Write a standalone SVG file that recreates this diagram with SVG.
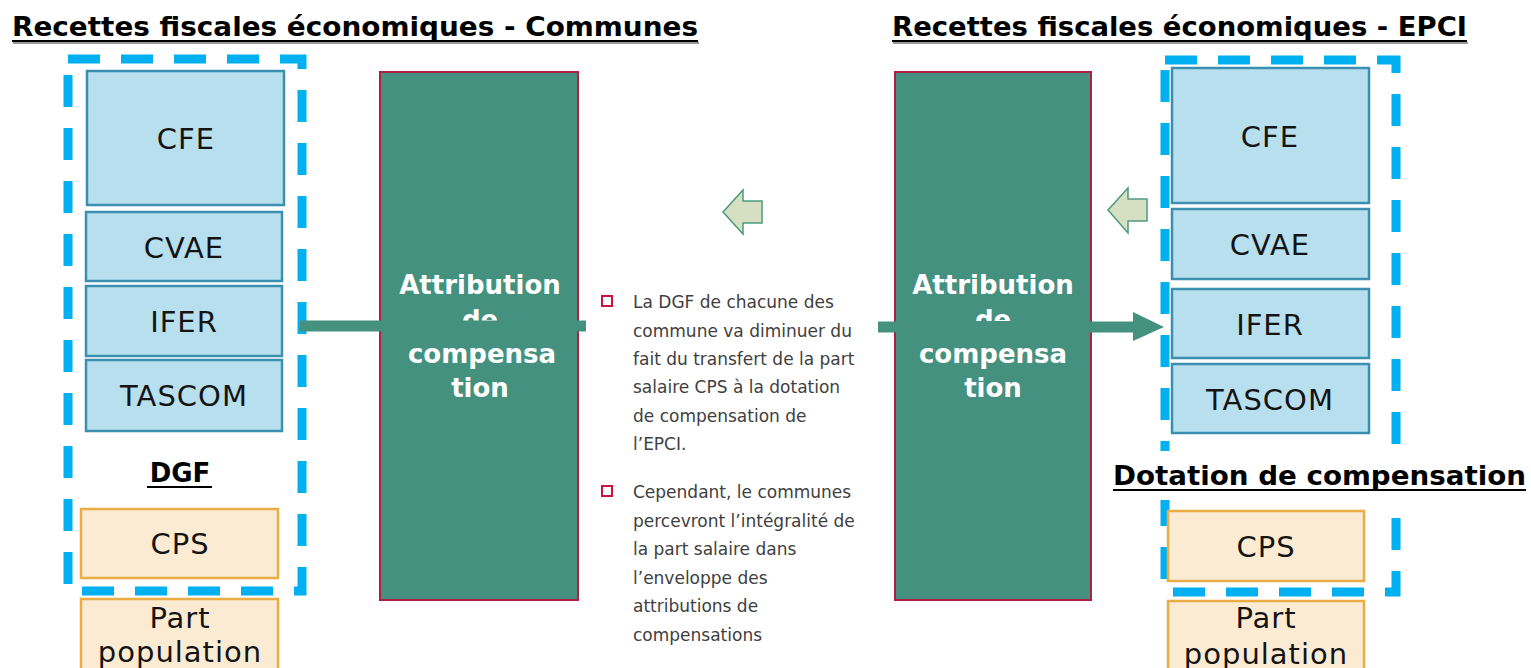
<svg xmlns="http://www.w3.org/2000/svg" width="1531" height="668" viewBox="0 0 1531 668">
<style>
.title{font-family:"DejaVu Sans",sans-serif;font-weight:bold;font-size:27px;fill:#000}
.ul{stroke:#000;stroke-width:2}
.ulsh{stroke:#9a9a9a;stroke-width:2}
.dash{fill:none;stroke:#00B0F0;stroke-width:9;stroke-dasharray:32 21}
.blue{fill:#B8DFEE;stroke:#3A90AE;stroke-width:2.5}
.orange{fill:#FBEBD3;stroke:#EAAC45;stroke-width:2.5}
.lbl{font-family:"DejaVu Sans",sans-serif;font-size:29px;fill:#141414;text-anchor:middle;letter-spacing:1px}
.green{fill:#44917F;stroke:#B01E40;stroke-width:2}
.gt{font-family:"DejaVu Sans",sans-serif;font-weight:bold;font-size:26px;fill:#fff;text-anchor:middle}
.body{font-family:"DejaVu Sans",sans-serif;font-size:17px;fill:#404040}
.bul{fill:#fff;stroke:#C8143C;stroke-width:2}
.conn{stroke:#44917F;stroke-width:11;fill:none}
.harrow{fill:#D5E0C2;stroke:#4E9A80;stroke-width:1.5}
.bold{font-family:"DejaVu Sans",sans-serif;font-weight:bold;font-size:26px;fill:#000}
</style>
<defs>
<clipPath id="clipL"><rect x="380" y="290" width="200" height="31"/></clipPath>
<clipPath id="clipR"><rect x="895" y="290" width="200" height="31"/></clipPath>
</defs>
<rect width="1531" height="668" fill="#fff"/>

<g id="title-communes">
<text class="title" x="12" y="36" textLength="686" lengthAdjust="spacingAndGlyphs">Recettes fiscales économiques - Communes</text>
<line class="ulsh" x1="13" y1="43" x2="699" y2="43"/>
<line class="ul" x1="12" y1="41" x2="698" y2="41"/>
</g>
<g id="title-epci">
<text class="title" x="892" y="36" textLength="575" lengthAdjust="spacingAndGlyphs">Recettes fiscales économiques - EPCI</text>
<line class="ulsh" x1="893" y1="43" x2="1468" y2="43"/>
<line class="ul" x1="892" y1="41" x2="1467" y2="41"/>
</g>

<g id="group-communes"><rect class="dash" x="68" y="59" width="234" height="532"/></g>
<g id="l-cfe"><rect class="blue" x="87" y="71" width="197" height="134"/><text class="lbl" x="186" y="149">CFE</text></g>
<g id="l-cvae"><rect class="blue" x="86" y="212" width="196" height="69"/><text class="lbl" x="184" y="258">CVAE</text></g>
<g id="l-ifer"><rect class="blue" x="86" y="286" width="196" height="70"/><text class="lbl" x="184" y="332">IFER</text></g>
<g id="l-tascom"><rect class="blue" x="86" y="360" width="196" height="71"/><text class="lbl" x="184" y="406">TASCOM</text></g>
<g id="l-dgf"><text class="bold" x="180" y="482" text-anchor="middle">DGF</text><line class="ul" x1="147" y1="487" x2="212" y2="487"/></g>
<g id="l-cps"><rect class="orange" x="81" y="509" width="197" height="69"/><text class="lbl" x="180" y="554">CPS</text></g>
<g id="l-pop"><rect class="orange" x="81" y="599" width="197" height="90"/><text class="lbl" x="180" y="628">Part</text><text class="lbl" x="180" y="662">population</text></g>

<g id="ac-communes">
<rect class="green" x="380" y="72" width="198" height="528"/>
<text class="gt" x="480" y="294">Attribution</text>
<text class="gt" x="480" y="329" clip-path="url(#clipL)">de</text>
<text class="gt" x="482" y="363">compensa</text>
<text class="gt" x="480" y="397">tion</text>
</g>

<g id="ac-epci">
<rect class="green" x="895" y="72" width="196" height="528"/>
<text class="gt" x="993" y="294">Attribution</text>
<text class="gt" x="993" y="329" clip-path="url(#clipR)">de</text>
<text class="gt" x="993" y="363">compensa</text>
<text class="gt" x="993" y="397">tion</text>
</g>

<g id="notes">
<rect class="bul" x="602" y="296" width="10" height="10"/>
<text class="body"><tspan x="633" y="308">La DGF de chacune des</tspan><tspan x="633" y="337">commune va diminuer du</tspan><tspan x="633" y="365">fait du transfert de la part</tspan><tspan x="633" y="393">salaire CPS à la dotation</tspan><tspan x="633" y="422">de compensation de</tspan><tspan x="633" y="450">l’EPCI.</tspan></text>
<rect class="bul" x="602" y="486" width="10" height="10"/>
<text class="body"><tspan x="633" y="498">Cependant, le communes</tspan><tspan x="633" y="527">percevront l’intégralité de</tspan><tspan x="633" y="555">la part salaire dans</tspan><tspan x="633" y="584">l’enveloppe des</tspan><tspan x="633" y="612">attributions de</tspan><tspan x="633" y="641">compensations</tspan></text>
</g>

<g id="group-epci"><rect class="dash" x="1165" y="60" width="231" height="532"/></g>
<g id="label-dotation">
<rect x="1092" y="451" width="439" height="49" fill="#fff"/>
<text class="bold" x="1113" y="485" textLength="413" lengthAdjust="spacingAndGlyphs">Dotation de compensation</text>
<line class="ul" x1="1113" y1="490" x2="1526" y2="490"/>
</g>
<g id="r-cfe"><rect class="blue" x="1172" y="68" width="197" height="135"/><text class="lbl" x="1270" y="147">CFE</text></g>
<g id="r-cvae"><rect class="blue" x="1172" y="209" width="197" height="70"/><text class="lbl" x="1270" y="255">CVAE</text></g>
<g id="r-ifer"><rect class="blue" x="1172" y="289" width="197" height="69"/><text class="lbl" x="1270" y="335">IFER</text></g>
<g id="r-tascom"><rect class="blue" x="1172" y="364" width="197" height="69"/><text class="lbl" x="1270" y="410">TASCOM</text></g>
<g id="r-cps"><rect class="orange" x="1168" y="511" width="196" height="70"/><text class="lbl" x="1266" y="557">CPS</text></g>
<g id="r-pop"><rect class="orange" x="1168" y="601" width="196" height="90"/><text class="lbl" x="1266" y="628">Part</text><text class="lbl" x="1266" y="664">population</text></g>

<g id="connectors">
<line class="conn" x1="300" y1="326" x2="586" y2="326"/>
<line class="conn" x1="878" y1="327" x2="1134" y2="327"/>
<polygon points="1133,312 1164,327 1133,341" fill="#44917F"/>
<polygon class="harrow" points="723,212 743,190 743,201 762,201 762,223 743,223 743,234"/>
<polygon class="harrow" points="1108,210 1128,188 1128,199 1147,199 1147,221 1128,221 1128,233"/>
</g>
</svg>
